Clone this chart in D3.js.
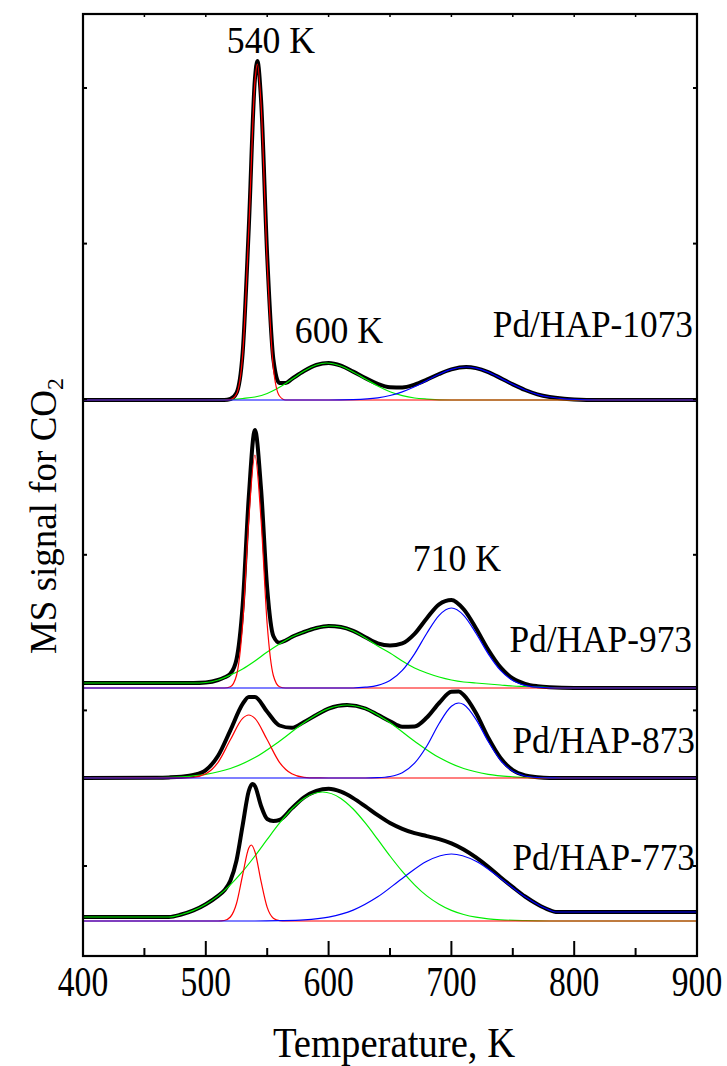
<!DOCTYPE html>
<html>
<head>
<meta charset="utf-8">
<script src="https://cdn.jsdelivr.net/npm/d3@7"></script>
<style>
  body { margin: 0; background: #fff; }
  text { font-family: "Liberation Serif", "Times New Roman", serif; fill: #000; }
</style>
</head>
<body>
<div id="chart"></div>
<script>
// temperature axis
const xTicks = [400, 500, 600, 700, 800, 900];
const xMinorTicks = [450, 550, 650, 750, 850];
const yTickStep = 155.6;

// panel offsets (signal units) and labels
const panels = ["Pd/HAP-1073", "Pd/HAP-973", "Pd/HAP-873", "Pd/HAP-773"];
const panelOffsets = [466, 178, 88, -55];

// Pd/HAP-1073
const black1073 = [[400,0],[515,0],[520,1],[525,7],[530,47],[535,172],[540,321],[542,339],[545,300],[550,144],[555,41],[560,17],[565,17],[570,21],[580,29],[590,35],[600,37],[610,34.3],[620,28.4],[630,21.9],[640,16.1],[650,12.8],[660,12.5],[670,15.3],[680,20.3],[690,26],[700,30.6],[712,33],[720,31.9],[730,27.9],[740,21.9],[750,15.6],[760,10],[770,5.7],[780,3],[790,1.4],[800,0.6],[820,0],[900,0]];
const red1073 = [[400,0],[515,0],[520,0.4],[525,6],[530,45],[535,170],[540,318],[542,336],[545,296],[550,138],[555,32],[560,4],[565,0],[900,0]];
const green1073 = [[400,0],[500,0],[520,0.4],[530,1.5],[540,3],[550,6.5],[560,12.7],[570,20.7],[580,29],[590,35],[598,37],[610,34],[620,28],[630,21],[640,14],[650,8.3],[660,4.4],[670,2],[680,0.9],[700,0],[900,0]];
const blue1073 = [[400,0],[600,0],[620,0.4],[640,2.2],[650,4.5],[660,8.1],[670,13.2],[680,19.4],[690,25.7],[700,30.6],[712,33],[720,31.9],[730,27.9],[740,21.9],[750,15.6],[760,10],[770,5.7],[780,3],[790,1.4],[800,0.6],[820,0],[900,0]];

// Pd/HAP-973
const black973 = [[400,5],[490,5],[500,5.5],[510,8],[515,10.5],[520,14.3],[525,28.5],[530,82.5],[535,191],[540,258],[545,199],[550,99.5],[555,52],[560,45.3],[565,47.5],[570,51],[580,56],[590,60],[600,62],[610,61],[620,57.2],[630,50.8],[640,44.7],[650,42.5],[660,44.6],[670,54.2],[680,69.8],[690,83.7],[700,88],[710,78.7],[720,59.8],[730,38.2],[740,20.6],[750,9.5],[760,4.2],[770,1.8],[780,0.7],[800,0],[900,0]];
const red973 = [[400,0],[515,0],[520,1.3],[525,12.5],[530,63.5],[535,168],[540,233],[545,168],[550,63.5],[555,12.5],[560,1.3],[565,0],[900,0]];
const green973 = [[400,5],[490,5],[500,5.5],[510,8],[520,13],[530,19],[540,27],[550,36],[560,44],[570,51],[580,56],[590,60],[600,62],[610,61],[620,57],[630,50],[640,42],[650,35],[660,27],[670,20],[680,15],[690,11],[700,8],[710,6],[720,5],[730,4],[740,3],[750,2],[760,1.5],[770,1],[780,0.5],[800,0],[900,0]];
const blue973 = [[400,0],[620,0],[630,0.8],[640,2.7],[650,7.5],[660,17.6],[670,34.2],[680,54.8],[690,72.7],[700,80],[710,72.7],[720,54.8],[730,34.2],[740,17.6],[750,7.5],[760,2.7],[770,0.8],[780,0.2],[790,0],[900,0]];

// Pd/HAP-873
const black873 = [[400,0],[460,0.3],[470,0.6],[480,1.3],[490,3],[500,7.9],[510,22.2],[520,47.7],[530,74.1],[535,81],[540,81],[550,66.2],[560,52.5],[570,50.2],[580,56],[590,63],[600,69.4],[615,73],[630,69.5],[640,63.3],[650,56.8],[660,51.3],[670,51.6],[680,60.5],[690,75],[700,86.2],[706,86.5],[710,83],[720,65],[730,40.2],[740,20],[750,7.9],[760,2.6],[770,0.8],[780,0.1],[800,0],[900,0]];
const red873 = [[400,0],[480,0.1],[490,0.7],[500,4.2],[510,15.7],[520,38.2],[530,59.6],[535,63],[540,59.6],[550,38.2],[560,15.7],[570,4.2],[580,0.7],[590,0.1],[600,0],[900,0]];
const green873 = [[400,0],[460,0.3],[480,1.2],[500,3.7],[520,9.5],[540,20.4],[560,36.8],[580,55.3],[600,69.4],[615,73],[630,69.4],[650,55.3],[670,36.8],[690,20.4],[710,9.5],[730,3.7],[750,1.2],[770,0.3],[790,0],[900,0]];
const blue873 = [[400,0],[630,0],[640,0.3],[650,1.5],[660,5.3],[670,14.8],[680,32],[690,54.5],[700,71.7],[706,75],[710,73.5],[720,58.7],[730,36.5],[740,17.7],[750,6.7],[760,2],[770,0.5],[780,0.1],[790,0],[900,0]];

// Pd/HAP-773
const black773 = [[400,4],[470,4],[480,6.5],[490,10.6],[500,16.8],[510,25.1],[515,30.5],[520,40.2],[525,60.5],[530,95.6],[535,130],[538,137],[540,135],[545,115],[550,102],[555,100],[560,101],[570,112.6],[580,123.7],[590,130],[600,132.2],[610,129.3],[620,122.9],[630,114.6],[640,105.8],[650,98],[660,92.2],[670,87.8],[680,84.9],[690,81.8],[700,77.6],[710,71.5],[720,63.6],[730,54.2],[740,43.8],[750,33.9],[760,24.5],[770,16.8],[780,10.9],[785,9],[900,9]];
const red773 = [[400,0],[510,0],[515,0.5],[520,4],[525,17.5],[530,46],[535,73],[537,76],[540,69.3],[545,39.6],[550,13.6],[555,2.8],[560,0.3],[565,0],[900,0]];
const green773 = [[400,4],[470,4],[480,6.5],[490,10.6],[500,16.8],[510,25.1],[520,36.2],[530,49.6],[540,65],[550,81.6],[560,97.8],[570,112],[580,122.6],[595,129],[610,122.6],[620,112],[630,97.8],[640,81.6],[650,65],[660,49.6],[670,36.2],[680,25.1],[690,16.8],[700,10.6],[710,6.5],[720,3.8],[730,2.2],[740,1.2],[760,0.3],[780,0],[900,0]];
const blue773 = [[400,0],[540,0],[560,0.3],[580,1.1],[600,3.9],[620,10.9],[640,24.2],[660,42.6],[680,59.8],[700,67],[720,59.8],[740,42.6],[760,24.2],[770,16.7],[780,10.9],[785,9],[900,9]];

const series = [
  { black: black1073, red: red1073, green: green1073, blue: blue1073 },
  { black: black973, red: red973, green: green973, blue: blue973 },
  { black: black873, red: red873, green: green873, blue: blue873 },
  { black: black773, red: red773, green: green773, blue: blue773 }
];

const width = 727, height = 1066;
const frame = { left: 83, right: 697, top: 14, bottom: 956 };

const svg = d3.select("#chart").append("svg")
  .attr("width", width)
  .attr("height", height);

const x = d3.scaleLinear().domain([400, 900]).range([frame.left, frame.right]);
const y = d3.scaleLinear().domain([-90, 852]).range([frame.bottom, frame.top]);

// traces
series.forEach((s, i) => {
  const off = panelOffsets[i];
  const line = d3.line()
    .x(d => x(d[0]))
    .y(d => y(d[1] + off))
    .curve(d3.curveMonotoneX);
  const g = svg.append("g").attr("class", "panel");
  g.append("path").attr("d", line(s.black))
    .attr("fill", "none").attr("stroke", "#000").attr("stroke-width", 4)
    .attr("stroke-linejoin", "round");
  [["green", "#00ee00"], ["red", "#ff0000"], ["blue", "#0000ff"]].forEach(([k, c]) => {
    g.append("path").attr("d", line(s[k]))
      .attr("fill", "none").attr("stroke", c).attr("stroke-width", 1.2);
  });
});

// frame
svg.append("rect")
  .attr("x", frame.left).attr("y", frame.top)
  .attr("width", frame.right - frame.left)
  .attr("height", frame.bottom - frame.top)
  .attr("fill", "none").attr("stroke", "#000").attr("stroke-width", 2.2);

const ticks = svg.append("g").attr("stroke", "#000");
xTicks.forEach(t => {
  ticks.append("line").attr("x1", x(t)).attr("x2", x(t))
    .attr("y1", frame.bottom).attr("y2", frame.bottom - 15).attr("stroke-width", 2);
});
xMinorTicks.forEach(t => {
  ticks.append("line").attr("x1", x(t)).attr("x2", x(t))
    .attr("y1", frame.bottom).attr("y2", frame.bottom - 8).attr("stroke-width", 2);
});
xTicks.concat(xMinorTicks).forEach(t => {
  ticks.append("line").attr("x1", x(t)).attr("x2", x(t))
    .attr("y1", frame.top).attr("y2", frame.top + 3).attr("stroke-width", 1.5);
});
d3.range(0, 852, yTickStep).forEach(v => {
  ticks.append("line").attr("x1", frame.left).attr("x2", frame.left + 4)
    .attr("y1", y(v)).attr("y2", y(v)).attr("stroke-width", 2);
  ticks.append("line").attr("x1", frame.right).attr("x2", frame.right - 4)
    .attr("y1", y(v)).attr("y2", y(v)).attr("stroke-width", 2);
});

// text helper: horizontally condensed serif
function label(px, py, str, size, sx, anchor) {
  return svg.append("text")
    .attr("transform", `translate(${px},${py}) scale(${sx},1)`)
    .attr("font-size", size)
    .attr("text-anchor", anchor)
    .text(str);
}

xTicks.forEach(t => label(x(t), 996, t, 42, 0.8, "middle"));
label(394, 1057, "Temperature, K", 43, 0.9, "middle");

// peak annotations
label(271, 53, "540 K", 38, 0.94, "middle");
label(339, 343, "600 K", 38, 0.94, "middle");
label(457, 571, "710 K", 38, 0.94, "middle");

// sample labels
const labelPos = [[693, 337], [692, 652], [695, 753], [695, 870]];
panels.forEach((p, i) => label(labelPos[i][0], labelPos[i][1], p, 38, 0.93, "end"));

// y axis title
const yt = svg.append("text")
  .attr("transform", "translate(56,516) rotate(-90)")
  .attr("font-size", 37)
  .attr("text-anchor", "middle");
yt.append("tspan").text("MS signal for CO");
yt.append("tspan").attr("font-size", 24).attr("dy", 7).text("2");
</script>
</body>
</html>
